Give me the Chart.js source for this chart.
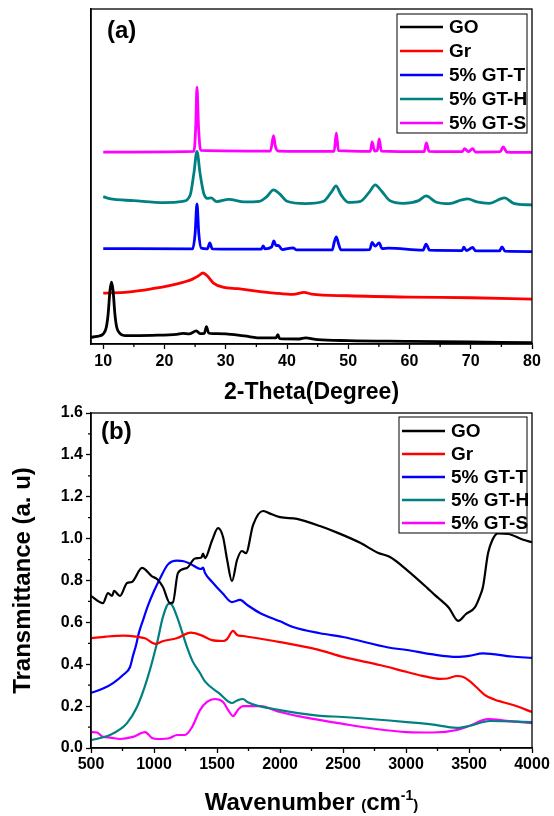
<!DOCTYPE html>
<html>
<head>
<meta charset="utf-8">
<script src="https://cdn.jsdelivr.net/npm/chart.js@4.4.0/dist/chart.umd.min.js"></script>
<style>
  body { margin: 0; background: #fff; }
  #wrap { position: relative; width: 554px; height: 816px; }
  #xrdBox { position: absolute; left: 0; top: 0; width: 554px; height: 410px; }
  #ftirBox { position: absolute; left: 0; top: 400px; width: 554px; height: 416px; }
</style>
</head>
<body>
<div id="wrap">
  <div id="xrdBox"><canvas id="xrdChart"></canvas></div>
  <div id="ftirBox"><canvas id="ftirChart"></canvas></div>
</div>
<script>
const seriesNames = ['GO', 'Gr', '5% GT-T', '5% GT-H', '5% GT-S'];
const seriesColors = ['#000000', '#ff0000', '#0000ff', '#008080', '#ff00ff'];

// (a) XRD, 2-theta vs intensity (arbitrary units, curves stacked)
const xrdTicks = [10, 20, 30, 40, 50, 60, 70, 80];
const xrdMinor = [15, 25, 35, 45, 55, 65, 75];

const goAngle = [8, 9, 10, 10.5, 10.8, 11.1, 11.35, 11.6, 11.9, 12.2, 12.7, 13.5, 18, 22, 23, 24, 25.2, 25.8, 26.5, 26.85, 27.2, 28, 30, 33, 36, 38.2, 38.5, 38.8, 42, 43, 45, 50, 60, 70, 80];
const goCounts = [2.0, 2.3, 3.0, 5, 9, 16, 18.5, 16, 9, 5, 3.2, 2.5, 2.6, 2.9, 3.2, 3.0, 3.9, 3.1, 3.2, 5.2, 3.3, 3.1, 3.0, 2.4, 1.8, 1.8, 2.8, 1.6, 1.5, 1.8, 1.3, 1.0, 0.8, 0.6, 0.4];

const grAngle = [10, 14, 18, 21, 23, 24.5, 25.5, 26.3, 27, 28, 29.5, 32, 35, 38, 41, 42.8, 44, 50, 60, 70, 80];
const grCounts = [15.2, 15.5, 16.5, 17.5, 18.4, 19.3, 20.3, 21.2, 20.3, 18.2, 17.0, 16.5, 15.8, 15.2, 14.8, 15.4, 14.9, 14.4, 14.0, 13.8, 13.4];

const gttAngle = [10, 24.6, 25.0, 25.3, 25.6, 26.0, 27.0, 27.4, 27.8, 35.8, 36.1, 36.4, 37.5, 37.85, 38.2, 38.6, 39.2, 41.0, 41.5, 47.4, 47.7, 48.05, 48.4, 48.8, 53.5, 53.9, 54.4, 55.05, 55.5, 56.6, 62.2, 62.7, 63.3, 68.6, 68.85, 69.3, 70.3, 70.8, 74.7, 75.1, 75.6, 80];
const gttCounts = [28.5, 28.4, 33, 41.8, 33, 28.6, 28.4, 30.2, 28.4, 28.3, 29.3, 28.4, 29.0, 30.8, 29.4, 29.4, 28.2, 28.7, 28.1, 28.1, 30.3, 32.0, 30.0, 28.1, 28.2, 30.3, 29.2, 30.2, 28.5, 28.6, 28.0, 29.8, 28.0, 27.9, 28.9, 27.9, 28.8, 27.8, 27.8, 29.0, 27.7, 27.6];

const gthAngle = [10, 11, 15, 20, 23, 24.2, 24.8, 25.3, 25.8, 26.4, 27.0, 27.6, 28.5, 30.5, 33, 35.5, 36.7, 37.8, 38.8, 40, 43, 46, 47.3, 48.0, 48.8, 50, 52, 53.5, 54.4, 55.5, 56.8, 59, 61.5, 62.7, 64.3, 66.5, 68.5, 69.5, 71, 73, 75.5, 77, 80];
const gthCounts = [44.0, 43.4, 42.8, 42.2, 42.6, 44.5, 51, 57.5, 51, 45, 43.5, 43.6, 42.5, 43.2, 42.4, 42.6, 44.0, 46.0, 44.8, 42.6, 41.9, 42.6, 45.5, 47.2, 44.6, 42.3, 42.6, 45.5, 47.5, 45.5, 42.8, 42.0, 42.8, 44.2, 42.4, 41.9, 43.0, 43.3, 42.4, 42.0, 43.6, 42.0, 41.5];

const gtsAngle = [10, 24.8, 25.1, 25.3, 25.55, 25.9, 37.3, 37.8, 38.1, 38.6, 47.7, 48.05, 48.4, 53.6, 53.9, 54.3, 54.75, 55.05, 55.4, 62.4, 62.75, 63.2, 68.6, 69.0, 69.6, 70.3, 70.8, 74.8, 75.3, 75.9, 80];
const gtsCounts = [57.3, 57.5, 65, 76.7, 65, 57.8, 57.6, 62.2, 59.0, 57.6, 57.5, 63.0, 57.7, 57.5, 60.3, 57.6, 57.8, 61.2, 57.6, 57.4, 60.0, 57.5, 57.4, 58.3, 57.4, 58.3, 57.3, 57.4, 58.8, 57.3, 57.2];

// (b) FTIR, wavenumber vs transmittance
const ftirTicksX = [500, 1000, 1500, 2000, 2500, 3000, 3500, 4000];
const ftirMinorX = [750, 1250, 1750, 2250, 2750, 3250, 3750];
const ftirTicksY = [0, 0.2, 0.4, 0.6, 0.8, 1.0, 1.2, 1.4, 1.6];
const ftirMinorY = [0.1, 0.3, 0.5, 0.7, 0.9, 1.1, 1.3, 1.5];

const goWave = [500, 595, 635, 667, 683, 730, 786, 825, 905, 984, 1024, 1070, 1127, 1150, 1190, 1262, 1325, 1376, 1389, 1405, 1460, 1508, 1548, 1580, 1619, 1659, 1698, 1730, 1786, 1865, 1908, 2000, 2135, 2317, 2468, 2636, 2776, 2873, 3008, 3168, 3230, 3294, 3340, 3414, 3476, 3548, 3590, 3611, 3651, 3683, 3728, 3812, 3924, 4000];
const goTrans = [0.726, 0.692, 0.74, 0.726, 0.75, 0.726, 0.788, 0.793, 0.86, 0.82, 0.807, 0.77, 0.692, 0.695, 0.836, 0.86, 0.905, 0.91, 0.928, 0.907, 0.99, 1.05, 1.008, 0.90, 0.797, 0.898, 0.941, 0.931, 1.065, 1.132, 1.123, 1.103, 1.094, 1.06, 1.025, 0.98, 0.933, 0.912, 0.85, 0.765, 0.73, 0.697, 0.67, 0.607, 0.64, 0.673, 0.73, 0.77, 0.93, 0.99, 1.025, 1.022, 0.996, 0.983];

const grWave = [500, 620, 760, 858, 928, 1012, 1068, 1180, 1292, 1376, 1460, 1548, 1580, 1627, 1660, 1706, 2000, 2300, 2500, 2800, 3007, 3150, 3270, 3330, 3405, 3450, 3500, 3560, 3627, 3700, 3762, 3850, 4000];
const grTrans = [0.524, 0.532, 0.537, 0.532, 0.524, 0.497, 0.51, 0.524, 0.551, 0.538, 0.515, 0.511, 0.52, 0.559, 0.54, 0.535, 0.506, 0.47, 0.435, 0.395, 0.363, 0.342, 0.33, 0.332, 0.344, 0.34, 0.322, 0.29, 0.253, 0.232, 0.22, 0.205, 0.172];

const gttWave = [500, 600, 675, 754, 810, 833, 857, 880, 913, 952, 1000, 1048, 1111, 1183, 1236, 1286, 1376, 1389, 1405, 1460, 1544, 1619, 1683, 1740, 1841, 2000, 2103, 2317, 2500, 2860, 3007, 3200, 3405, 3500, 3611, 3840, 4000];
const gttTrans = [0.263, 0.285, 0.31, 0.349, 0.387, 0.44, 0.49, 0.55, 0.611, 0.68, 0.75, 0.81, 0.877, 0.895, 0.892, 0.88, 0.855, 0.862, 0.836, 0.794, 0.739, 0.697, 0.707, 0.683, 0.645, 0.605, 0.578, 0.548, 0.53, 0.48, 0.468, 0.448, 0.435, 0.44, 0.452, 0.437, 0.43];

const gthWave = [500, 651, 732, 786, 865, 944, 1024, 1071, 1119, 1140, 1183, 1262, 1306, 1365, 1404, 1516, 1619, 1660, 1706, 1740, 2000, 2300, 2500, 3007, 3200, 3405, 3500, 3667, 4000];
const gthTrans = [0.037, 0.062, 0.09, 0.119, 0.196, 0.325, 0.501, 0.626, 0.69, 0.685, 0.626, 0.482, 0.415, 0.358, 0.318, 0.262, 0.215, 0.227, 0.234, 0.22, 0.181, 0.155, 0.148, 0.124, 0.113, 0.096, 0.105, 0.129, 0.124];

const gtsWave = [500, 548, 595, 650, 730, 833, 929, 984, 1032, 1127, 1183, 1246, 1302, 1365, 1420, 1484, 1548, 1590, 1627, 1670, 1706, 1841, 2000, 2250, 2500, 2750, 3007, 3214, 3405, 3500, 3651, 3800, 4000];
const gtsTrans = [0.076, 0.074, 0.053, 0.05, 0.043, 0.053, 0.076, 0.048, 0.043, 0.048, 0.062, 0.062, 0.10, 0.181, 0.22, 0.234, 0.22, 0.18, 0.153, 0.185, 0.2, 0.2, 0.172, 0.14, 0.115, 0.092, 0.076, 0.074, 0.086, 0.105, 0.138, 0.13, 0.119];

const FONT = '"Liberation Sans", Arial, Helvetica, sans-serif';

function pts(xs, ys) {
    return xs.map((x, i) => ({ x: x, y: ys[i] }));
}

function makeSets(pairs, width) {
    return pairs.map((p, i) => ({
        label: seriesNames[i],
        data: pts(p[0], p[1]),
        borderColor: seriesColors[i],
        backgroundColor: seriesColors[i],
        borderWidth: width,
        pointRadius: 0,
        fill: false,
        cubicInterpolationMode: 'monotone'
    }));
}

// frame, minor ticks, panel label, boxed legend and the cm-1 title
const figurePlugin = {
    id: 'figure',
    afterDraw(chart, args, opts) {
        const ctx = chart.ctx;
        const a = chart.chartArea;
        const sx = chart.scales.x, sy = chart.scales.y;
        ctx.save();
        ctx.strokeStyle = '#000';
        ctx.lineWidth = 1.3;
        ctx.strokeRect(a.left, a.top, a.right - a.left, a.bottom - a.top);

        ctx.lineWidth = 1.3;
        ctx.beginPath();
        (opts.minorX || []).forEach(v => {
            const px = sx.getPixelForValue(v);
            ctx.moveTo(px, a.bottom);
            ctx.lineTo(px, a.bottom + 3);
        });
        (opts.minorY || []).forEach(v => {
            const py = sy.getPixelForValue(v);
            ctx.moveTo(a.left, py);
            ctx.lineTo(a.left - 3, py);
        });
        ctx.stroke();

        // (a) / (b)
        ctx.fillStyle = '#000';
        ctx.font = 'bold 24px ' + FONT;
        ctx.textBaseline = 'middle';
        ctx.textAlign = 'left';
        ctx.fillText(opts.label, opts.labelX, opts.labelY);

        // legend
        const lg = opts.legend;
        ctx.fillStyle = '#fff';
        ctx.fillRect(lg.x, lg.y, lg.w, lg.h);
        ctx.strokeStyle = '#000';
        ctx.lineWidth = 1;
        ctx.strokeRect(lg.x, lg.y, lg.w, lg.h);
        ctx.font = 'bold 19px ' + FONT;
        chart.data.datasets.forEach((ds, i) => {
            const yy = lg.y + lg.first + i * lg.gap;
            ctx.strokeStyle = ds.borderColor;
            ctx.lineWidth = 2.5;
            ctx.beginPath();
            ctx.moveTo(lg.x + 3, yy);
            ctx.lineTo(lg.x + 3 + lg.lineLen, yy);
            ctx.stroke();
            ctx.fillStyle = '#000';
            ctx.fillText(ds.label, lg.x + lg.textDx, yy + 1);
        });

        // x title with superscript
        if (opts.unitTitle) {
            const parts = opts.unitTitle;
            let total = 0;
            parts.forEach(p => {
                ctx.font = 'bold ' + p.size + 'px ' + FONT;
                p.w = ctx.measureText(p.t).width;
                total += p.w;
            });
            let x = (a.left + a.right) / 2 - total / 2;
            ctx.textBaseline = 'alphabetic';
            ctx.fillStyle = '#000';
            parts.forEach(p => {
                ctx.font = 'bold ' + p.size + 'px ' + FONT;
                ctx.fillText(p.t, x, opts.unitY - (p.rise || 0));
                x += p.w;
            });
        }
        ctx.restore();
    }
};

const tickFont = { family: FONT, size: 16, weight: 'bold' };
const axisGrid = { display: true, drawOnChartArea: false, drawTicks: true, tickLength: 5, tickColor: '#000', tickWidth: 1.3 };
const axisBorder = { display: true, color: '#000', width: 1.5 };

Chart.defaults.font.family = FONT;
Chart.defaults.color = '#000';

new Chart(document.getElementById('xrdChart'), {
    type: 'line',
    data: {
        datasets: makeSets([
            [goAngle, goCounts],
            [grAngle, grCounts],
            [gttAngle, gttCounts],
            [gthAngle, gthCounts],
            [gtsAngle, gtsCounts]
        ], 2.8)
    },
    options: {
        responsive: true,
        maintainAspectRatio: false,
        animation: false,
        layout: { padding: { top: 9, right: 22, left: 0, bottom: 0 } },
        plugins: {
            legend: { display: false },
            tooltip: { enabled: false },
            figure: {
                minorX: xrdMinor,
                label: '(a)', labelX: 107, labelY: 31,
                legend: { x: 397, y: 14, w: 130, h: 119, first: 13, gap: 24, lineLen: 43, textDx: 52 }
            }
        },
        scales: {
            x: {
                type: 'linear', min: 8, max: 80,
                afterBuildTicks: s => { s.ticks = xrdTicks.map(v => ({ value: v })); },
                afterFit: s => { s.height = 66; },
                ticks: { font: tickFont, color: '#000', padding: 3, maxRotation: 0, autoSkip: false, callback: v => String(v) },
                grid: axisGrid,
                border: axisBorder,
                title: { display: true, text: '2-Theta(Degree)', color: '#000', font: { family: FONT, size: 23, weight: 'bold' }, padding: { top: 0, bottom: 4 } }
            },
            y: {
                min: 0, max: 100,
                afterFit: s => { s.width = 91; },
                ticks: { display: false },
                grid: { display: false },
                border: axisBorder
            }
        }
    },
    plugins: [figurePlugin]
});

new Chart(document.getElementById('ftirChart'), {
    type: 'line',
    data: {
        datasets: makeSets([
            [goWave, goTrans],
            [grWave, grTrans],
            [gttWave, gttTrans],
            [gthWave, gthTrans],
            [gtsWave, gtsTrans]
        ], 2.2)
    },
    options: {
        responsive: true,
        maintainAspectRatio: false,
        animation: false,
        layout: { padding: { top: 13, right: 22, left: 0, bottom: 0 } },
        plugins: {
            legend: { display: false },
            tooltip: { enabled: false },
            figure: {
                minorX: ftirMinorX,
                minorY: ftirMinorY,
                label: '(b)', labelX: 101, labelY: 32,
                legend: { x: 399, y: 17, w: 128, h: 116, first: 14, gap: 23, lineLen: 43, textDx: 52 },
                unitTitle: [
                    { t: 'Wavenumber ', size: 24 },
                    { t: '(', size: 15 },
                    { t: 'cm', size: 24 },
                    { t: '-1', size: 14, rise: 10 },
                    { t: ')', size: 15 }
                ],
                unitY: 410
            }
        },
        scales: {
            x: {
                type: 'linear', min: 500, max: 4000,
                afterBuildTicks: s => { s.ticks = ftirTicksX.map(v => ({ value: v })); },
                afterFit: s => { s.height = 68; },
                ticks: { font: tickFont, color: '#000', padding: 2, maxRotation: 0, autoSkip: false, callback: v => String(v) },
                grid: axisGrid,
                border: axisBorder
            },
            y: {
                min: 0, max: 1.6,
                afterBuildTicks: s => { s.ticks = ftirTicksY.map(v => ({ value: v })); },
                afterFit: s => { s.width = 91; },
                ticks: { font: tickFont, color: '#000', padding: 3, autoSkip: false, callback: v => v.toFixed(1) },
                grid: axisGrid,
                border: axisBorder,
                title: { display: true, text: 'Transmittance (a. u)', color: '#000', font: { family: FONT, size: 24, weight: 'bold' }, padding: { top: 9, bottom: 0 } }
            }
        }
    },
    plugins: [figurePlugin]
});
</script>
</body>
</html>
